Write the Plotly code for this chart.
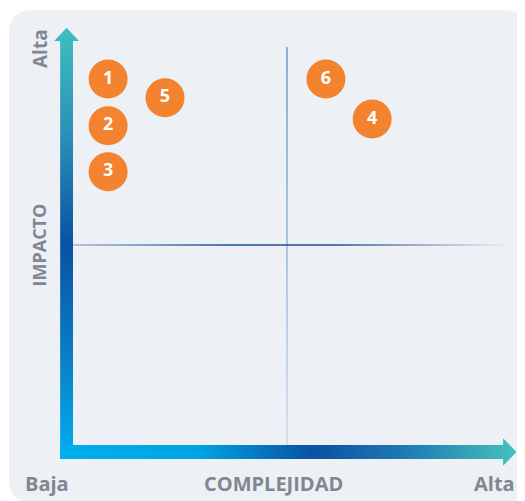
import plotly.graph_objects as go

# project positions on the matrix (0-10 scale, midpoint = 5)
labels = ["1", "2", "3", "4", "5", "6"]
complejidad = [0.82, 0.82, 0.82, 6.99, 2.15, 5.91]
impacto = [9.15, 7.98, 6.83, 8.15, 8.68, 9.15]

# page body keeps an 8px margin, so the figure is 8px smaller than the window
OFF = 8
W, H = 517, 493
X_RANGE = [-1.5187, 10.5607]
Y_RANGE = [-1.4, 10.925]

ORANGE = "#f3832f"
GREY = "#7d8890"
FONT = "Open Sans"


def paper(px, py):
    # window pixel -> paper coordinate
    return (px - OFF) / W, 1 - (py - OFF) / H


def rounded_rect(x0, y0, x1, y1, r):
    pts = [
        ("M", [(x0 + r, y0)]),
        ("L", [(x1 - r, y0)]),
        ("Q", [(x1, y0), (x1, y0 + r)]),
        ("L", [(x1, y1 - r)]),
        ("Q", [(x1, y1), (x1 - r, y1)]),
        ("L", [(x0 + r, y1)]),
        ("Q", [(x0, y1), (x0, y1 - r)]),
        ("L", [(x0, y0 + r)]),
        ("Q", [(x0, y0), (x0 + r, y0)]),
    ]
    out = ""
    for cmd, ps in pts:
        out += cmd + " " + " ".join("%.5f,%.5f" % paper(*p) for p in ps) + " "
    return out + "Z"


def gradient_poly(xs, ys, direction, scale):
    return go.Scatter(
        x=xs + [xs[0]], y=ys + [ys[0]],
        mode="lines", line=dict(width=0),
        fill="toself",
        fillgradient=dict(type=direction, colorscale=scale),
        hoverinfo="skip", showlegend=False)


fig = go.Figure()

# quadrant dividers
fig.add_trace(gradient_poly(
    [4.984, 5.016, 5.016, 4.984], [0, 0, 9.95, 9.95], "vertical",
    [[0, "#cbd8e8"], [0.5, "#8fb0d8"], [1, "#5f90cb"]]))
fig.add_trace(gradient_poly(
    [0, 10.1, 10.1, 0], [4.98, 4.98, 5.02, 5.02], "horizontal",
    [[0, "#9bb7da"], [0.35, "#1f4f92"], [0.6, "#1d4b8c"], [1, "#e6ecf3"]]))

# IMPACTO axis arrow
fig.add_trace(gradient_poly(
    [-0.30, 0.0, 0.0, 0.14, -0.15, -0.44, -0.30],
    [-0.35, -0.35, 10.1, 10.1, 10.43, 10.1, 10.1], "vertical",
    [[0, "#00aeef"], [0.25, "#0a7cc4"], [0.5, "#0a52a2"],
     [0.75, "#2a8fb8"], [1, "#40bfbf"]]))

# COMPLEJIDAD axis arrow
fig.add_trace(gradient_poly(
    [-0.30, 10.05, 10.05, 10.36, 10.05, 10.05, -0.30],
    [-0.35, -0.35, -0.52, -0.175, 0.17, 0.0, 0.0], "horizontal",
    [[0, "#00aeef"], [0.3, "#00a4e4"], [0.55, "#0a52a2"],
     [0.75, "#1e78b4"], [1, "#45c1bd"]]))

fig.add_trace(go.Scatter(
    x=complejidad, y=impacto, text=labels,
    mode="markers+text",
    marker=dict(size=39, color=ORANGE, line=dict(width=0)),
    textfont=dict(family=FONT, size=18, color="white", weight="bold"),
    textposition="middle center",
    hoverinfo="skip", showlegend=False))

annotations = [
    dict(text="Alta", x=paper(40, 0)[0], y=paper(0, 49)[1], textangle=-90,
         font_size=19),
    dict(text="IMPACTO", x=paper(38.5, 0)[0], y=paper(0, 245)[1],
         textangle=-90, font_size=18),
    dict(text="Baja", x=paper(46.5, 0)[0], y=paper(0, 483)[1]),
    dict(text="COMPLEJIDAD", x=paper(273, 0)[0], y=paper(0, 483)[1]),
    dict(text="Alta", x=paper(494, 0)[0], y=paper(0, 483)[1]),
]
for a in annotations:
    size = a.pop("font_size", 20)
    a.update(xref="paper", yref="paper", showarrow=False,
             xanchor="center", yanchor="middle",
             font=dict(family=FONT, size=size, color=GREY, weight="bold"))

fig.update_layout(
    width=W, height=H,
    margin=dict(l=0, r=0, t=0, b=0),
    paper_bgcolor="white", plot_bgcolor="rgba(0,0,0,0)",
    xaxis=dict(range=X_RANGE, visible=False, fixedrange=True),
    yaxis=dict(range=Y_RANGE, visible=False, fixedrange=True),
    shapes=[dict(type="path", xref="paper", yref="paper", layer="below",
                 path=rounded_rect(9, 10, 528, 503, 24),
                 fillcolor="#edf0f5", line=dict(width=0))],
    annotations=annotations,
)

fig.write_html("out.html")
